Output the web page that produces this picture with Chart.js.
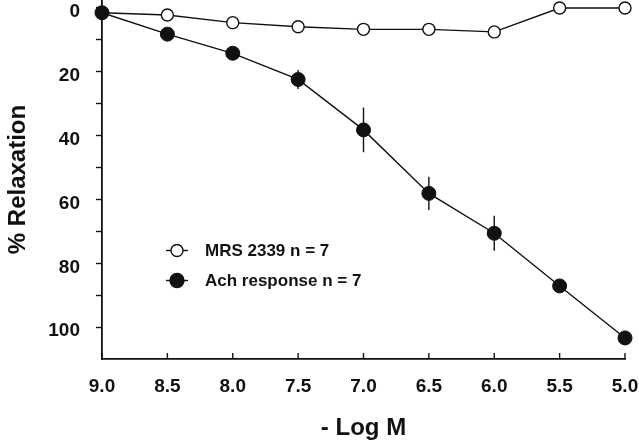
<!DOCTYPE html>
<html lang="en">
<head>
  <meta charset="UTF-8" />
  <title>% Relaxation vs - Log M</title>
  <script src="https://cdn.jsdelivr.net/npm/chart.js"></script>
  <style>
    body { margin: 0; background: #fff; }
    .wrap { width: 639px; height: 442px; }
  </style>
</head>
<body>
<div class="wrap"><canvas id="chart" width="639" height="442"></canvas></div>
<script>
  // - Log M (concentration)
  const logM = [9.0, 8.5, 8.0, 7.5, 7.0, 6.5, 6.0, 5.5, 5.0];

  // MRS 2339 n = 7 (open circles)
  const mrsLabel = 'MRS 2339 n = 7';
  const mrsValues = [1.5, 2.2, 4.6, 5.9, 6.7, 6.7, 7.5, 0, 0];
  const mrsErr    = [0, 0, 0, 1.0, 1.2, 1.2, 1.5, 0, 0];

  // Ach response n = 7 (filled circles)
  const achLabel = 'Ach response n = 7';
  const achValues = [1.5, 8.2, 14.2, 22.4, 38.2, 58.1, 70.6, 87.1, 103.4];
  const achErr    = [0, 0, 0, 3.0, 7.0, 5.2, 5.5, 0, 2.2];

  const yTicks = [0, 10, 20, 30, 40, 50, 60, 70, 80, 90, 100];

  const ink = '#111';
  const font = 'Liberation Sans, Arial, Helvetica, sans-serif';

  function toPoints(vals) {
    return logM.map((x, i) => ({ x: x, y: vals[i] }));
  }

  // error bars behind the markers
  const errorBars = {
    id: 'errorBars',
    beforeDatasetsDraw(chart) {
      const ctx = chart.ctx;
      const xs = chart.scales.x, ys = chart.scales.y;
      ctx.save();
      ctx.strokeStyle = ink;
      ctx.lineWidth = 1.4;
      [[mrsValues, mrsErr], [achValues, achErr]].forEach(([vals, errs]) => {
        vals.forEach((v, i) => {
          if (!errs[i]) return;
          const px = xs.getPixelForValue(logM[i]);
          ctx.beginPath();
          ctx.moveTo(px, ys.getPixelForValue(v - errs[i]));
          ctx.lineTo(px, ys.getPixelForValue(v + errs[i]));
          ctx.stroke();
        });
      });
      ctx.restore();
    }
  };

  // inward ticks on the x axis + legend inside the plot
  const extras = {
    id: 'extras',
    afterDraw(chart) {
      const ctx = chart.ctx;
      const xs = chart.scales.x, ys = chart.scales.y;
      const area = chart.chartArea;
      ctx.save();
      ctx.strokeStyle = ink;
      ctx.lineWidth = 1.4;
      logM.forEach(v => {
        const px = xs.getPixelForValue(v);
        ctx.beginPath();
        ctx.moveTo(px, area.bottom);
        ctx.lineTo(px, area.bottom - 6);
        ctx.stroke();
      });

      // legend
      const rows = [
        { label: mrsLabel, fill: '#fff', r: 6 },
        { label: achLabel, fill: ink, r: 7 }
      ];
      const lx = area.left + 75;
      rows.forEach((row, i) => {
        const ly = ys.getPixelForValue(76) + i * 30;
        ctx.lineWidth = 1.4;
        ctx.beginPath();
        ctx.moveTo(lx - 11, ly);
        ctx.lineTo(lx + 11, ly);
        ctx.stroke();
        ctx.beginPath();
        ctx.arc(lx, ly, row.r, 0, Math.PI * 2);
        ctx.fillStyle = row.fill;
        ctx.fill();
        ctx.stroke();
        ctx.fillStyle = ink;
        ctx.font = 'bold 17px ' + font;
        ctx.textBaseline = 'middle';
        ctx.fillText(row.label, lx + 28, ly + 1);
      });
      ctx.restore();
    }
  };

  new Chart(document.getElementById('chart'), {
    type: 'line',
    data: {
      datasets: [
        {
          label: mrsLabel,
          data: toPoints(mrsValues),
          borderColor: ink,
          borderWidth: 1.4,
          pointBackgroundColor: '#fff',
          pointBorderColor: ink,
          pointBorderWidth: 1.4,
          pointRadius: 6,
          tension: 0,
          order: 1
        },
        {
          label: achLabel,
          data: toPoints(achValues),
          borderColor: ink,
          borderWidth: 1.4,
          pointBackgroundColor: ink,
          pointBorderColor: ink,
          pointBorderWidth: 1,
          pointRadius: 7,
          tension: 0,
          order: 0
        }
      ]
    },
    options: {
      responsive: false,
      animation: false,
      clip: false,
      layout: { autoPadding: false, padding: { top: 0, right: 14, left: 0, bottom: 0 } },
      plugins: {
        legend: { display: false },
        tooltip: { enabled: false }
      },
      scales: {
        x: {
          type: 'linear',
          reverse: true,
          min: 5.0,
          max: 9.0,
          border: { color: ink, width: 1.8 },
          grid: { display: false },
          afterBuildTicks: s => { s.ticks = logM.map(v => ({ value: v })); },
          afterFit: s => { s.height = 83; s.paddingLeft = 0; s.paddingRight = 0; },
          ticks: {
            color: ink,
            padding: 8,
            font: { family: font, size: 19, weight: 'bold' },
            callback: v => Number(v).toFixed(1)
          },
          title: {
            display: true,
            text: '- Log M',
            color: ink,
            font: { family: font, size: 24, weight: 'bold' },
            padding: { top: 12, bottom: -1 }
          }
        },
        y: {
          type: 'linear',
          reverse: true,
          min: -2.5,
          max: 110,
          border: { color: ink, width: 1.8 },
          grid: { drawOnChartArea: false, drawTicks: true, tickLength: 6, tickColor: ink, tickWidth: 1.4 },
          afterBuildTicks: s => { s.ticks = yTicks.map(v => ({ value: v })); },
          afterFit: s => { s.width = 102; s.paddingTop = 0; s.paddingBottom = 0; },
          ticks: {
            color: ink,
            padding: 16,
            labelOffset: 4,
            font: { family: font, size: 19, weight: 'bold' },
            callback: v => (v % 20 === 0 ? String(v) : '')
          },
          title: {
            display: true,
            text: '% Relaxation',
            color: ink,
            font: { family: font, size: 24, weight: 'bold' },
            padding: { bottom: 4 }
          }
        }
      }
    },
    plugins: [errorBars, extras]
  });
</script>
</body>
</html>
